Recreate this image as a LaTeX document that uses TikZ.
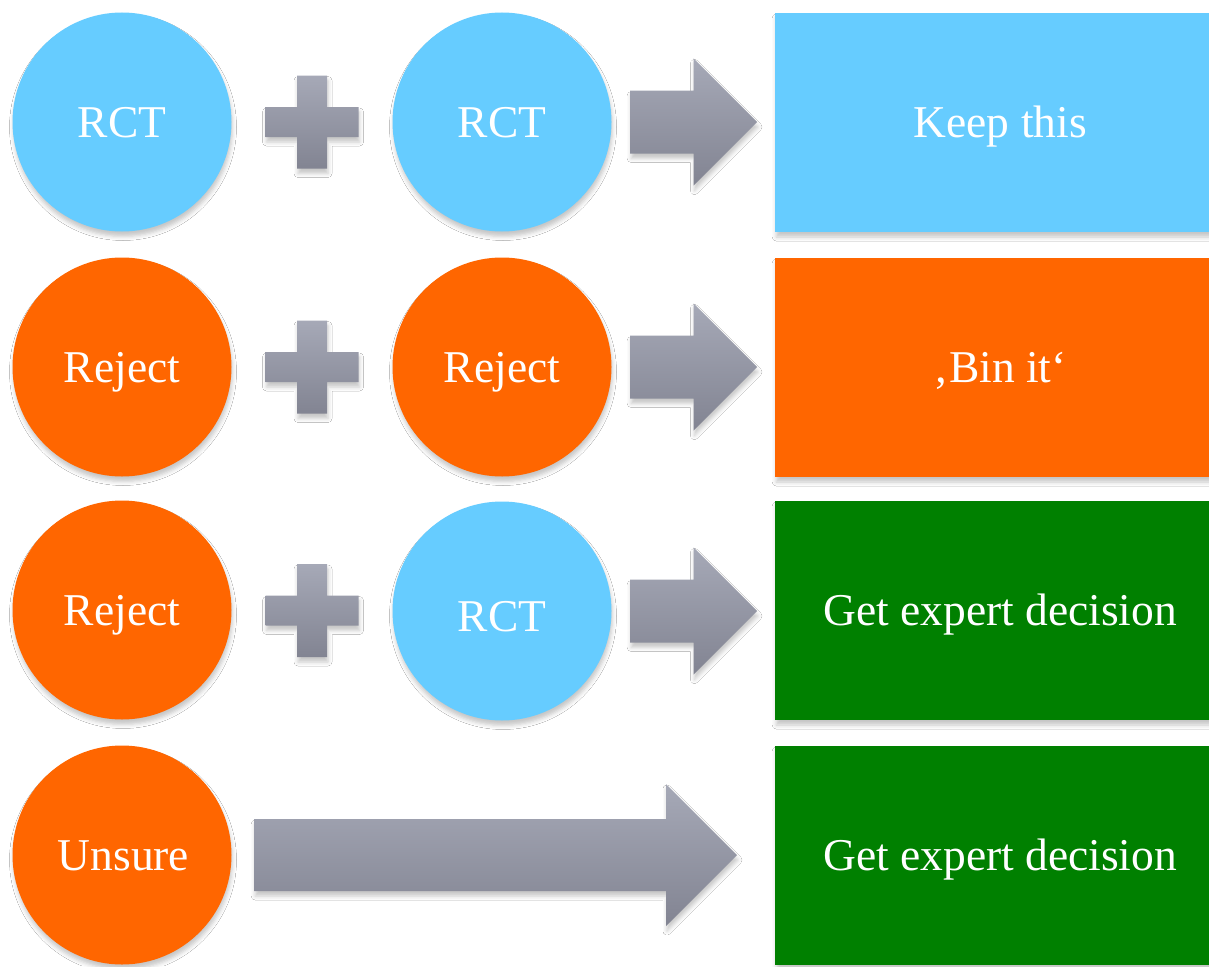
\documentclass[tikz,border=0pt]{standalone}
\usepackage{fontspec}
\setmainfont{Liberation Serif}
\usetikzlibrary{calc,shadows.blur}

\definecolor{rctblue}{HTML}{66CCFF}
\definecolor{rejorange}{HTML}{FF6600}
\definecolor{expgreen}{HTML}{008000}
\definecolor{steeltop}{HTML}{A6A9B7}
\definecolor{steelbot}{HTML}{828492}

% block arrow from node #1 to node #2: gaps #3/#4, half shaft #5, half head #6
\newcommand\blockarrow[6]{%
  \path[steel] let \p1=($(#1.east)+(#3,0)$), \p2=($(#2.west)+(-#4,0)$) in
    (\x1,\y1+#5pt) -- (\x2-#6pt,\y1+#5pt) -- (\x2-#6pt,\y1+#6pt) --
    (\x2,\y1) --
    (\x2-#6pt,\y1-#6pt) -- (\x2-#6pt,\y1-#5pt) -- (\x1,\y1-#5pt) -- cycle;}

% plus sign centred on coordinate #1
\newcommand\plussign[1]{%
  \path[steel,shift={(#1)}]
    (-15,-46.5) -- (15,-46.5) -- (15,-15) -- (46.5,-15) -- (46.5,15) --
    (15,15) -- (15,46.5) -- (-15,46.5) -- (-15,15) -- (-46.5,15) --
    (-46.5,-15) -- (-15,-15) -- cycle;}

\begin{document}
\begin{tikzpicture}[x=1pt,y=-1pt,
  soft/.style={blur shadow={shadow xshift=1pt,shadow yshift=-5pt,
      shadow blur radius=4pt,shadow opacity=22}},
  label font/.style={text=white,font=\fontsize{45.5}{54}\selectfont,
      text height=30pt,text depth=0pt},
  disc/.style={circle,minimum size=219pt,inner sep=0pt,soft,label font},
  verdict/.style={rectangle,anchor=west,minimum width=450pt,
      minimum height=219pt,inner sep=0pt,soft,label font},
  steel/.style={top color=steeltop,bottom color=steelbot,draw=none,soft},
  rct/.style={disc,fill=rctblue},
  reject/.style={disc,fill=rejorange}]

\fill[white] (0,0) rectangle (1209,966);
\useasboundingbox (0,0) rectangle (1209,966);

% row 1
\node[rct] (a1) at (122,122) {RCT};
\node[rct] (b1) at (502,122) {RCT};
\node[verdict,fill=rctblue] (r1) at (775,122.5) {Keep this};

% row 2
\node[reject] (a2) at (122,367) {Reject};
\node[reject] (b2) at (502,367) {Reject};
\node[verdict,fill=rejorange] (r2) at (775,367.5) {‚Bin it‘};

% row 3
\node[reject] (a3) at (122,610) {Reject};
\node[rct] (b3) at (502,611) {\raisebox{-5pt}{RCT}};
\node[verdict,fill=expgreen] (r3) at (775,610.5) {Get expert decision};

% row 4
\node[reject] (a4) at (122,855) {\hspace*{3pt}Unsure};
\node[verdict,fill=expgreen] (r4) at (775,855.5) {Get expert decision};

% operators
\foreach \i in {1,2,3}{
  \coordinate (p\i) at ($(a\i)!0.5!(b\i)$);
  \plussign{p\i}
  \blockarrow{b\i}{r\i}{18.5}{18}{31.5}{63.5}
}
\blockarrow{a4}{r4}{22.5}{38}{36}{71}

\end{tikzpicture}
\end{document}
